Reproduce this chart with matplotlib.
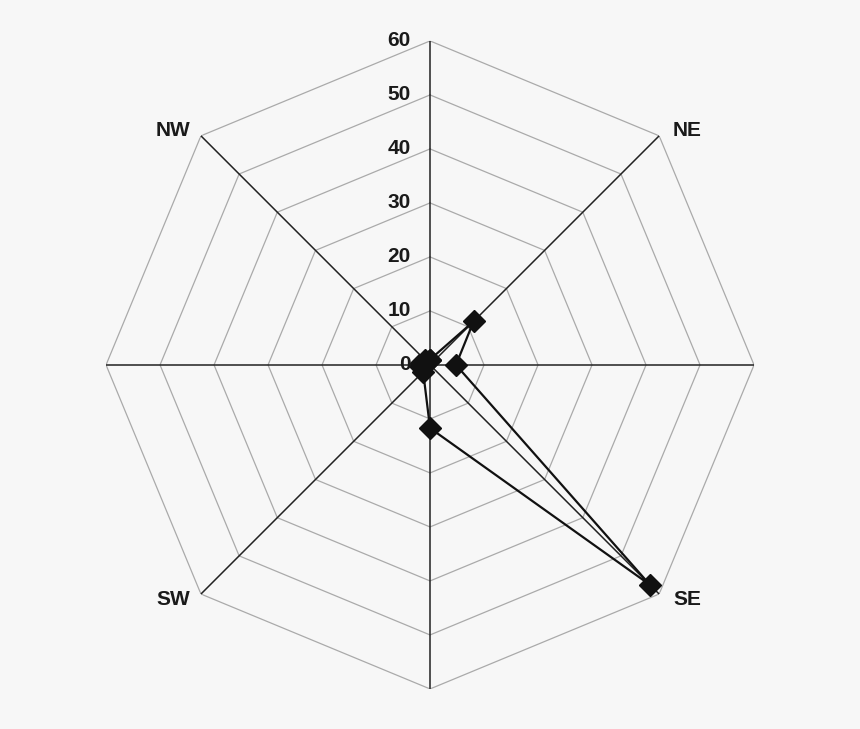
import numpy as np
import matplotlib.pyplot as plt

plt.rcParams['font.family'] = ['Liberation Sans', 'DejaVu Sans']

directions = ['N', 'NE', 'E', 'SE', 'S', 'SW', 'W', 'NW']
shown_labels = ['', 'NE', '', 'SE', '', 'SW', '', 'NW']
values = [1.0, 11.4, 4.8, 57.6, 11.7, 1.8, 2.0, 1.3]
rings = [10, 20, 30, 40, 50, 60]
tick_labels = ['0', '10', '20', '30', '40', '50', '60']

bg = '#f7f7f7'
fig = plt.figure(figsize=(8.6, 7.29), dpi=100, facecolor=bg)
ax = fig.add_axes([0.1233, 0.0549, 0.7535, 0.889], projection='polar')
ax.set_facecolor(bg)
ax.set_theta_zero_location('N')
ax.set_theta_direction(-1)
ax.set_ylim(0, 60)
ax.grid(False)
ax.spines['polar'].set_visible(False)
ax.set_xticks([])
ax.set_yticks([])

angles = np.arange(len(directions)) * 2 * np.pi / len(directions)
closed = np.append(angles, angles[0])

for r in rings:
    ax.plot(closed, [r] * len(closed), color='#aaaaaa', lw=0.9, zorder=1)
for a in angles:
    ax.plot([a, a], [0, 60], color='#222222', lw=1.1, zorder=2)

ax.plot(closed, values + [values[0]], color='#111111', lw=1.6,
        marker='D', markersize=11, markerfacecolor='#111111', zorder=3)

for i, lab in enumerate(tick_labels):
    ax.annotate(lab, xy=(0, i * 10), xytext=(-14, 0), textcoords='offset points',
                ha='right', va='center', fontsize=15, fontweight='bold',
                color='#1a1a1a', annotation_clip=False)

for a, lab in zip(angles, shown_labels):
    if lab:
        dx = 20 if np.sin(a) > 0 else -20
        dy = 4 if np.cos(a) > 0 else -4
        ax.annotate(lab, xy=(a, 60), xytext=(dx, dy), textcoords='offset points',
                    ha='center', va='center', fontsize=15, fontweight='bold',
                    color='#1a1a1a', annotation_clip=False)

fig.savefig('out.png', dpi=100, facecolor=bg)
